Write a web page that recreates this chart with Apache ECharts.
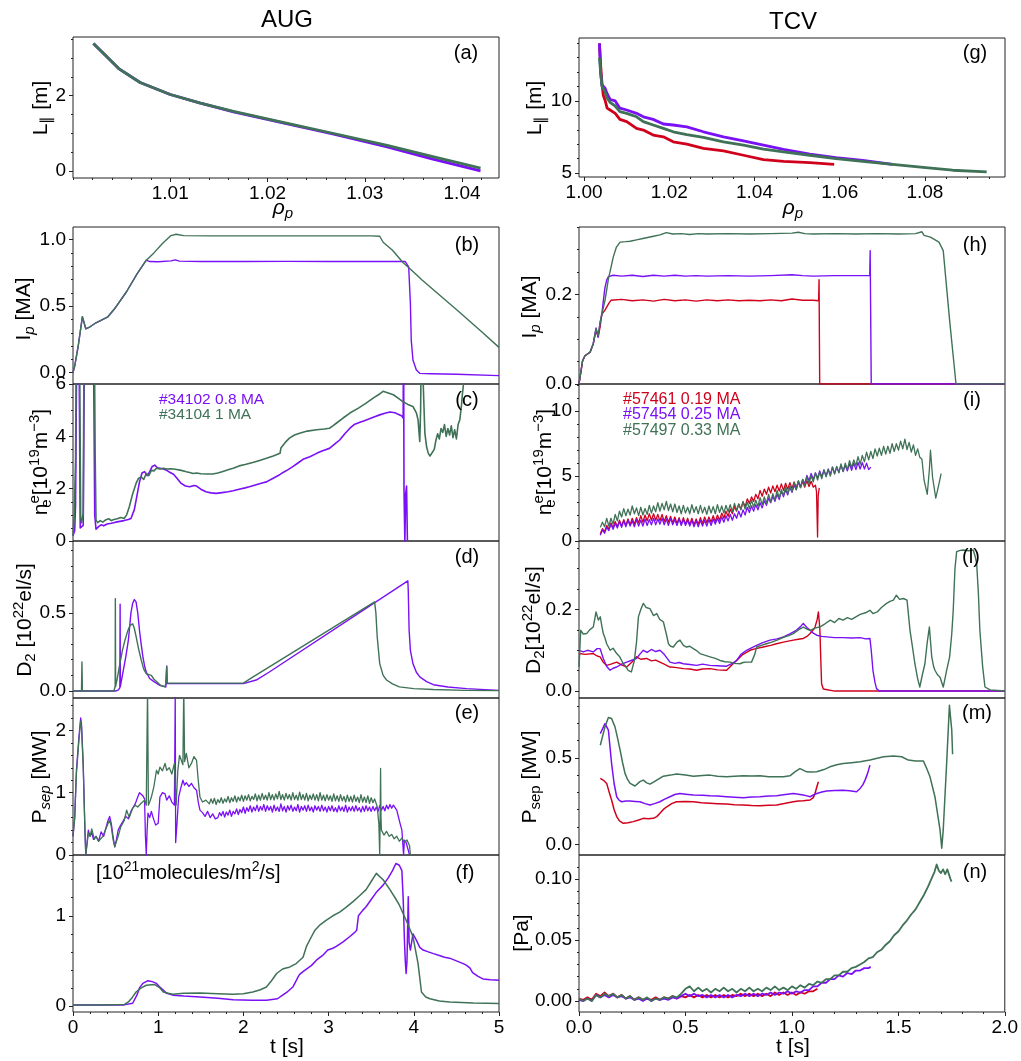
<!DOCTYPE html>
<html><head><meta charset="utf-8">
<script src="https://cdn.jsdelivr.net/npm/echarts@6/dist/echarts.min.js"></script>
<style>html,body{margin:0;padding:0;background:#fff}#c{width:1021px;height:1061px}</style>
</head><body><div id="c"></div>
<script>
// ---------------- DATA ----------------
// tick labels
const RHO_AUG_TICKS = [1.01, 1.02, 1.03, 1.04];
const RHO_TCV_TICKS = [1.00, 1.02, 1.04, 1.06, 1.08];
const T_AUG_TICKS = [0, 1, 2, 3, 4, 5];
const T_TCV_TICKS = [0, 0.5, 1.0, 1.5, 2.0];
const Y_A_TICKS = [0, 2];
const Y_B_TICKS = [0, 0.5, 1.0];
const Y_C_TICKS = [0, 2, 4, 6];
const Y_D_TICKS = [0, 0.5];
const Y_E_TICKS = [0, 1, 2];
const Y_F_TICKS = [0, 1];
const Y_G_TICKS = [5, 10];
const Y_H_TICKS = [0, 0.2];
const Y_I_TICKS = [0, 5, 10];
const Y_J_TICKS = [0, 0.2];
const Y_M_TICKS = [0, 0.5];
const Y_N_TICKS = [0, 0.05, 0.10];

// legend entries
const AUG_SHOTS = ['#34102 0.8 MA', '#34104 1 MA'];
const TCV_SHOTS = ['#57461 0.19 MA', '#57454 0.25 MA', '#57497 0.33 MA'];

// (a) AUG L_par vs rho_p
const aug_L_34102 = [[1.0021,3.39],[1.0047,2.72],[1.0069,2.35],[1.01,2.03],[1.0131,1.8],[1.0165,1.57],[1.0217,1.27],[1.0267,0.98],[1.0323,0.64],[1.037,0.31],[1.0419,0.0]];
const aug_L_34104 = [[1.0021,3.39],[1.0047,2.72],[1.0069,2.35],[1.01,2.03],[1.0131,1.8],[1.0165,1.58],[1.0217,1.28],[1.0267,1.0],[1.0323,0.68],[1.037,0.38],[1.0419,0.07]];

// (b) AUG Ip
const aug_ip_34102 = [[0,0],[0.02,0.05],[0.06,0.195],[0.11,0.42],[0.15,0.33],[0.2,0.345],[0.27,0.375],[0.41,0.42],[0.5,0.49],[0.63,0.61],[0.75,0.74],[0.86,0.845],[0.9,0.835],[1.0,0.833],[1.15,0.84],[1.2,0.848],[1.25,0.838],[1.5,0.835],[2.0,0.835],[2.5,0.836],[3.0,0.835],[3.5,0.835],[3.9,0.835],[3.92,0.845],[3.94,0.795],[3.96,0.52],[3.97,0.245],[3.99,0.095],[4.03,0.02],[4.07,-0.005],[4.2,-0.008],[4.5,-0.012],[5.0,-0.022]];
const aug_ip_34104 = [[0,0],[0.02,0.05],[0.06,0.195],[0.11,0.42],[0.15,0.33],[0.2,0.345],[0.27,0.375],[0.41,0.42],[0.5,0.49],[0.63,0.61],[0.75,0.74],[0.86,0.845],[0.95,0.9],[1.05,0.97],[1.15,1.03],[1.21,1.04],[1.3,1.03],[1.6,1.028],[2.0,1.028],[2.5,1.028],[3.0,1.028],[3.5,1.028],[3.6,1.025],[3.64,0.98],[3.75,0.92],[3.87,0.83],[4.0,0.755],[4.1,0.695],[4.5,0.475],[4.8,0.305],[5.0,0.19]];

// (c) AUG ne
const aug_ne_34102 = [[0,0.2],[0.02,0.4],[0.03,1.4],[0.045,8],[0.07,8],[0.085,0.5],[0.1,0.45],[0.12,0.6],[0.135,8],[0.24,8],[0.255,1.0],[0.27,0.45],[0.3,0.55],[0.33,0.62],[0.36,0.58],[0.4,0.65],[0.45,0.68],[0.5,0.72],[0.55,0.75],[0.6,0.78],[0.65,0.82],[0.68,0.86],[0.72,1.2],[0.76,1.9],[0.78,2.25],[0.81,2.6],[0.84,2.65],[0.87,2.5],[0.9,2.65],[0.93,2.85],[0.96,2.9],[0.99,2.8],[1.02,2.78],[1.06,2.75],[1.1,2.7],[1.14,2.62],[1.18,2.55],[1.22,2.4],[1.27,2.2],[1.32,2.1],[1.37,2.07],[1.42,2.12],[1.45,2.1],[1.5,1.98],[1.56,1.88],[1.62,1.84],[1.68,1.82],[1.75,1.85],[1.82,1.88],[1.88,1.92],[1.95,1.98],[2.02,2.03],[2.07,2.07],[2.15,2.15],[2.22,2.22],[2.27,2.26],[2.35,2.4],[2.42,2.52],[2.46,2.61],[2.52,2.72],[2.58,2.84],[2.64,2.98],[2.66,2.95],[2.7,3.12],[2.78,3.22],[2.86,3.35],[2.93,3.45],[3.01,3.54],[3.07,3.7],[3.13,3.86],[3.19,4.1],[3.25,4.31],[3.3,4.45],[3.36,4.53],[3.42,4.6],[3.48,4.67],[3.54,4.75],[3.6,4.82],[3.66,4.88],[3.72,4.93],[3.78,4.9],[3.81,4.85],[3.86,4.78],[3.875,4.7],[3.88,8],[3.885,2.0],[3.895,0],[3.905,1.8],[3.915,2.1],[3.925,0]];
const aug_ne_34104 = [[0,0.2],[0.015,1.0],[0.03,3.1],[0.04,8],[0.075,8],[0.09,0.9],[0.1,0.7],[0.12,1.05],[0.13,8],[0.25,8],[0.26,3.3],[0.27,0.8],[0.29,0.7],[0.32,0.78],[0.35,0.72],[0.38,0.8],[0.42,0.85],[0.45,0.78],[0.48,0.82],[0.52,0.85],[0.56,0.9],[0.6,0.86],[0.63,1.0],[0.66,1.3],[0.7,1.8],[0.74,2.2],[0.77,2.4],[0.8,2.45],[0.83,2.35],[0.86,2.58],[0.89,2.5],[0.92,2.7],[0.95,2.68],[0.98,2.78],[1.02,2.75],[1.06,2.78],[1.1,2.75],[1.15,2.76],[1.2,2.74],[1.27,2.7],[1.33,2.65],[1.37,2.62],[1.41,2.58],[1.45,2.6],[1.5,2.57],[1.57,2.56],[1.64,2.56],[1.7,2.6],[1.76,2.66],[1.82,2.72],[1.88,2.78],[1.95,2.87],[2.02,2.92],[2.11,3.0],[2.19,3.08],[2.27,3.16],[2.35,3.25],[2.43,3.35],[2.44,3.55],[2.46,3.6],[2.5,3.8],[2.54,3.93],[2.6,4.05],[2.66,4.12],[2.75,4.2],[2.86,4.25],[2.95,4.28],[3.01,4.31],[3.05,4.4],[3.09,4.5],[3.17,4.7],[3.25,4.89],[3.35,5.08],[3.44,5.27],[3.54,5.5],[3.6,5.62],[3.64,5.72],[3.7,5.66],[3.76,5.59],[3.82,5.45],[3.87,5.33],[3.93,5.22],[3.99,5.14],[4.03,4.9],[4.05,4.63],[4.07,3.8],[4.08,5.0],[4.09,8],[4.11,8],[4.13,4.12],[4.15,3.6],[4.17,3.35],[4.19,3.25],[4.21,3.22],[4.24,3.5],[4.26,3.86],[4.28,4.1],[4.3,3.9],[4.32,4.3],[4.34,4.15],[4.36,4.45],[4.38,4.0],[4.4,4.3],[4.42,4.05],[4.44,4.4],[4.46,3.95],[4.48,4.25],[4.5,3.9],[4.52,4.45],[4.54,4.63],[4.56,5.2],[4.57,5.6],[4.6,6.5]];

// (d) AUG D2 fuelling
const aug_d2_34102 = [[0,0],[0.5,0],[0.53,0.005],[0.55,0.02],[0.553,0.555],[0.556,0.03],[0.59,0.13],[0.62,0.22],[0.65,0.325],[0.68,0.5],[0.7,0.56],[0.72,0.585],[0.74,0.57],[0.76,0.5],[0.78,0.39],[0.8,0.3],[0.82,0.22],[0.84,0.16],[0.86,0.12],[0.9,0.08],[0.95,0.06],[1.02,0.036],[1.09,0.026],[1.1,0.16],[1.105,0.047],[1.2,0.047],[1.5,0.047],[2.0,0.047],[2.15,0.07],[2.3,0.12],[3.93,0.705],[3.935,0.64],[3.945,0.39],[3.96,0.26],[3.99,0.175],[4.03,0.12],[4.07,0.09],[4.15,0.06],[4.23,0.04],[4.4,0.025],[4.62,0.015],[5.0,0.004]];
const aug_d2_34104 = [[0,0],[0.1,0],[0.105,0.185],[0.11,0],[0.48,0],[0.495,0.03],[0.497,0.59],[0.5,0.03],[0.52,0.08],[0.55,0.175],[0.58,0.26],[0.61,0.325],[0.64,0.38],[0.67,0.42],[0.7,0.43],[0.72,0.4],[0.74,0.35],[0.77,0.27],[0.8,0.2],[0.83,0.14],[0.86,0.11],[0.89,0.105],[0.92,0.1],[0.95,0.075],[0.98,0.06],[1.03,0.035],[1.08,0.026],[1.09,0.05],[1.1,0.155],[1.105,0.05],[1.5,0.05],[2.0,0.05],[2.1,0.085],[3.54,0.57],[3.555,0.5],[3.57,0.35],[3.6,0.175],[3.64,0.1],[3.68,0.07],[3.75,0.045],[3.83,0.026],[4.0,0.015],[4.23,0.009],[4.6,0.004],[5.0,0.002]];

// (e) AUG P_sep
const aug_ps_34102 = [[0,0.3],[0.02,0.6],[0.04,1.36],[0.07,1.9],[0.09,2.2],[0.1,2.1],[0.12,1.47],[0.14,0.4],[0.15,0],[0.16,0],[0.18,0.4],[0.2,0.3],[0.22,0.36],[0.24,0.25],[0.27,0.3],[0.3,0.22],[0.33,0.37],[0.36,0.3],[0.39,0.45],[0.41,0.55],[0.43,0.62],[0.45,0.5],[0.47,0.3],[0.49,0.13],[0.51,0.25],[0.53,0.4],[0.56,0.48],[0.59,0.55],[0.62,0.62],[0.65,0.58],[0.68,0.7],[0.7,0.75],[0.73,0.82],[0.76,0.93],[0.78,1.0],[0.8,1.0],[0.82,0.95],[0.84,0.9],[0.85,0.3],[0.86,0],[0.87,0.4],[0.88,0.67],[0.9,0.6],[0.92,0.7],[0.94,0.6],[0.97,0.48],[1.0,0.51],[1.02,0.93],[1.05,1.0],[1.08,0.98],[1.1,0.88],[1.13,0.95],[1.16,0.85],[1.19,0.8],[1.2,2.6],[1.205,0.2],[1.22,0.5],[1.24,0.93],[1.27,1.1],[1.29,1.2],[1.31,1.12],[1.33,1.16],[1.36,1.1],[1.39,1.15],[1.42,1.08],[1.45,1.04],[1.47,0.85],[1.49,0.72],[1.52,0.68],[1.55,0.62],[1.58,0.7],[1.61,0.6],[1.64,0.66],[1.67,0.58],
[1.70,0.60],[1.72,0.68],[1.74,0.63],[1.76,0.70],[1.78,0.61],[1.80,0.69],[1.82,0.64],[1.84,0.72],[1.86,0.62],[1.88,0.70],[1.90,0.66],[1.92,0.74],[1.94,0.65],[1.96,0.73],[1.98,0.68],[2.00,0.77],[2.02,0.67],[2.04,0.76],[2.06,0.70],[2.08,0.79],[2.10,0.69],[2.12,0.77],[2.14,0.71],[2.16,0.80],[2.18,0.70],[2.20,0.78],[2.22,0.72],[2.24,0.81],[2.26,0.70],[2.28,0.79],[2.30,0.72],[2.32,0.78],[2.34,0.69],[2.36,0.80],[2.38,0.71],[2.40,0.77],[2.42,0.70],[2.44,0.82],[2.46,0.71],[2.48,0.78],[2.50,0.69],[2.52,0.79],[2.54,0.72],[2.56,0.80],[2.58,0.70],[2.60,0.77],[2.62,0.71],[2.64,0.81],[2.66,0.69],[2.68,0.78],[2.70,0.72],[2.72,0.79],[2.74,0.70],[2.76,0.80],[2.78,0.71],[2.80,0.77],[2.82,0.69],[2.84,0.79],[2.86,0.72],[2.88,0.78],[2.90,0.70],[2.92,0.80],[2.94,0.71],[2.96,0.77],[2.98,0.69],[3.00,0.78],[3.02,0.71],[3.04,0.79],[3.06,0.70],[3.08,0.76],[3.10,0.69],[3.12,0.79],[3.14,0.71],[3.16,0.77],[3.18,0.70],[3.20,0.80],[3.22,0.69],[3.24,0.77],[3.26,0.71],[3.28,0.78],[3.30,0.70],[3.32,0.79],[3.34,0.71],[3.36,0.76],[3.38,0.69],[3.40,0.78],[3.42,0.70],[3.44,0.79],[3.46,0.71],[3.48,0.77],[3.50,0.70],[3.52,0.78],[3.54,0.71],[3.56,0.77],[3.58,0.70],[3.60,0.79],[3.62,0.72],[3.64,0.78],[3.66,0.71],[3.68,0.80],[3.70,0.74],[3.72,0.81],[3.74,0.75],[3.76,0.80],[3.78,0.76],[3.8,0.72],[3.82,0.61],[3.84,0.5],[3.86,0.4],[3.87,0.2],[3.88,0],[3.89,0.24],[3.91,0.2],[3.93,0.18],[3.95,0]];
const aug_ps_34104 = [[0,0.3],[0.02,0.6],[0.04,1.3],[0.07,1.85],[0.09,2.15],[0.1,2.05],[0.12,1.4],[0.14,0.4],[0.15,0],[0.165,0],[0.18,0.35],[0.2,0.3],[0.22,0.42],[0.25,0.25],[0.27,0.3],[0.3,0.22],[0.32,0.2],[0.35,0.3],[0.38,0.4],[0.41,0.5],[0.43,0.56],[0.45,0.45],[0.47,0.25],[0.49,0.13],[0.51,0.22],[0.53,0.3],[0.56,0.45],[0.6,0.55],[0.63,0.72],[0.66,0.6],[0.7,0.75],[0.73,0.8],[0.76,0.77],[0.8,0.83],[0.84,0.88],[0.86,0.8],[0.875,2.7],[0.885,0.8],[0.9,0.85],[0.92,0.93],[0.95,1.1],[0.98,1.36],[1.0,1.3],[1.02,1.41],[1.05,1.35],[1.08,1.47],[1.1,1.36],[1.13,1.4],[1.16,1.3],[1.19,1.47],[1.21,0.8],[1.23,1.35],[1.25,1.6],[1.27,1.57],[1.29,1.45],[1.3,2.7],[1.31,1.5],[1.33,1.63],[1.36,1.4],[1.39,1.47],[1.42,1.58],[1.45,1.52],[1.47,1.2],[1.49,0.93],[1.52,0.85],[1.56,0.88],
[1.60,0.82],[1.62,0.90],[1.64,0.83],[1.66,0.91],[1.68,0.81],[1.70,0.89],[1.72,0.84],[1.74,0.92],[1.76,0.83],[1.78,0.90],[1.80,0.85],[1.82,0.94],[1.84,0.84],[1.86,0.92],[1.88,0.86],[1.90,0.95],[1.92,0.85],[1.94,0.93],[1.96,0.87],[1.98,0.96],[2.00,0.86],[2.02,0.95],[2.04,0.88],[2.06,0.97],[2.08,0.87],[2.10,0.94],[2.12,0.89],[2.14,0.98],[2.16,0.87],[2.18,0.96],[2.20,0.88],[2.22,0.99],[2.24,0.89],[2.26,0.96],[2.28,0.88],[2.30,1.00],[2.32,0.89],[2.34,0.97],[2.36,0.88],[2.38,0.98],[2.40,0.90],[2.42,1.02],[2.44,0.89],[2.46,0.97],[2.48,0.88],[2.50,0.99],[2.52,0.90],[2.54,0.97],[2.56,0.88],[2.58,1.00],[2.60,0.89],[2.62,0.96],[2.64,0.88],[2.66,1.01],[2.68,0.89],[2.70,0.97],[2.72,0.88],[2.74,0.99],[2.76,0.87],[2.78,0.96],[2.80,0.89],[2.82,0.98],[2.84,0.88],[2.86,0.97],[2.88,0.87],[2.90,1.00],[2.92,0.88],[2.94,0.96],[2.96,0.87],[2.98,0.97],[3.00,0.88],[3.02,0.95],[3.04,0.86],[3.06,0.98],[3.08,0.87],[3.10,0.95],[3.12,0.86],[3.14,0.97],[3.16,0.87],[3.18,0.94],[3.20,0.85],[3.22,0.96],[3.24,0.86],[3.26,0.94],[3.28,0.85],[3.30,0.96],[3.32,0.86],[3.34,0.93],[3.36,0.84],[3.38,0.97],[3.40,0.85],[3.42,0.93],[3.44,0.84],[3.46,0.95],[3.48,0.83],[3.50,0.92],[3.52,0.84],[3.54,0.90],[3.57,0.78],[3.59,0.5],[3.6,0],[3.605,0.6],[3.61,1.39],[3.615,0.6],[3.62,0.4],[3.65,0.32],[3.68,0.38],[3.71,0.3],[3.74,0.33],[3.77,0.26],[3.8,0.3],[3.83,0.22],[3.86,0.27],[3.89,0.2],[3.92,0.24],[3.95,0.15],[3.96,0]];

// (f) AUG neutral flux
const aug_fl_34102 = [[0,0.01],[0.3,0.01],[0.6,0.012],[0.7,0.03],[0.75,0.12],[0.78,0.2],[0.82,0.25],[0.88,0.28],[0.93,0.27],[0.98,0.25],[1.03,0.2],[1.1,0.14],[1.17,0.12],[1.3,0.11],[1.49,0.1],[1.7,0.085],[1.88,0.07],[2.1,0.063],[2.27,0.063],[2.4,0.08],[2.46,0.12],[2.52,0.16],[2.58,0.21],[2.62,0.28],[2.64,0.32],[2.66,0.35],[2.7,0.38],[2.8,0.45],[2.86,0.51],[2.93,0.56],[2.99,0.62],[3.05,0.64],[3.09,0.66],[3.17,0.71],[3.25,0.77],[3.3,0.81],[3.33,0.84],[3.35,1.0],[3.4,1.06],[3.44,1.1],[3.5,1.18],[3.56,1.26],[3.64,1.34],[3.7,1.42],[3.75,1.5],[3.79,1.58],[3.83,1.56],[3.86,1.5],[3.875,1.2],[3.89,0.73],[3.9,0.5],[3.91,0.36],[3.92,0.5],[3.935,1.21],[3.945,0.7],[3.96,0.62],[3.99,0.8],[4.01,0.78],[4.03,0.73],[4.07,0.65],[4.11,0.62],[4.17,0.6],[4.23,0.58],[4.3,0.56],[4.36,0.54],[4.42,0.53],[4.5,0.5],[4.58,0.47],[4.62,0.45],[4.66,0.42],[4.69,0.37],[4.75,0.33],[4.81,0.3],[4.9,0.29],[5.0,0.285]];
const aug_fl_34104 = [[0,0.012],[0.3,0.012],[0.6,0.015],[0.65,0.045],[0.7,0.1],[0.74,0.155],[0.8,0.2],[0.86,0.23],[0.96,0.237],[1.02,0.2],[1.06,0.155],[1.12,0.14],[1.17,0.13],[1.3,0.14],[1.49,0.145],[1.7,0.135],[1.88,0.13],[2.0,0.135],[2.11,0.155],[2.2,0.18],[2.27,0.21],[2.33,0.28],[2.39,0.36],[2.46,0.41],[2.5,0.42],[2.54,0.43],[2.62,0.47],[2.7,0.54],[2.74,0.66],[2.8,0.77],[2.84,0.84],[2.9,0.9],[2.97,0.95],[3.05,1.0],[3.13,1.04],[3.2,1.09],[3.29,1.16],[3.36,1.22],[3.44,1.29],[3.5,1.38],[3.56,1.47],[3.58,1.48],[3.64,1.4],[3.72,1.29],[3.78,1.2],[3.83,1.12],[3.91,0.95],[3.99,0.77],[4.05,0.47],[4.09,0.155],[4.14,0.1],[4.19,0.08],[4.3,0.055],[4.42,0.044],[4.7,0.032],[5.0,0.026]];

// (g) TCV L_par vs rho_p
const tcv_L_57461 = [[1.0036,14.0],[1.0039,12.4],[1.0042,11.2],[1.0045,10.4],[1.0049,10.07],[1.0054,9.5],[1.0061,9.37],[1.0073,9.14],[1.0084,8.72],[1.01,8.56],[1.0123,8.1],[1.0139,7.98],[1.0162,7.63],[1.0186,7.51],[1.0209,7.16],[1.0241,7.0],[1.028,6.7],[1.0327,6.53],[1.0374,6.23],[1.0421,5.93],[1.0468,5.81],[1.053,5.72],[1.0587,5.6]];
const tcv_L_57454 = [[1.0036,14.0],[1.0039,11.9],[1.0042,11.1],[1.0049,10.9],[1.0054,10.5],[1.0061,10.1],[1.0073,10.0],[1.0084,9.5],[1.01,9.37],[1.0123,9.14],[1.0139,8.9],[1.0162,8.72],[1.0186,8.4],[1.0209,8.33],[1.0241,8.2],[1.028,7.86],[1.0327,7.51],[1.0374,7.23],[1.0421,6.93],[1.0468,6.63],[1.053,6.3],[1.0591,6.07],[1.0654,5.88],[1.0724,5.6]];
const tcv_L_57497 = [[1.0036,13.0],[1.0039,11.9],[1.0042,11.0],[1.0049,10.65],[1.0054,10.2],[1.0061,9.9],[1.0073,9.65],[1.0084,9.26],[1.01,9.14],[1.0123,8.9],[1.0139,8.56],[1.0162,8.33],[1.0186,8.1],[1.0209,7.86],[1.0241,7.67],[1.028,7.47],[1.0327,7.16],[1.0374,6.93],[1.0421,6.65],[1.0468,6.47],[1.053,6.23],[1.0591,6.0],[1.0654,5.81],[1.0724,5.6],[1.0802,5.37],[1.0865,5.19],[1.0945,5.07]];

// (h) TCV Ip
const tcv_ip_57461 = [[0,0],[0.005,0],[0.017,0.052],[0.028,0.063],[0.052,0.071],[0.067,0.09],[0.08,0.12],[0.09,0.105],[0.1,0.13],[0.106,0.155],[0.114,0.157],[0.122,0.165],[0.13,0.168],[0.14,0.18],[0.15,0.187],[0.2,0.189],[0.25,0.186],[0.3,0.188],[0.35,0.185],[0.4,0.189],[0.45,0.186],[0.5,0.188],[0.55,0.185],[0.6,0.188],[0.65,0.186],[0.7,0.188],[0.75,0.186],[0.8,0.187],[0.85,0.186],[0.9,0.188],[0.95,0.186],[1.0,0.19],[1.05,0.187],[1.1,0.187],[1.125,0.186],[1.127,0.233],[1.13,0],[2.0,0]];
const tcv_ip_57454 = [[0,0],[0.005,0],[0.017,0.052],[0.028,0.063],[0.052,0.071],[0.067,0.09],[0.08,0.125],[0.09,0.105],[0.1,0.14],[0.106,0.15],[0.114,0.185],[0.122,0.216],[0.13,0.232],[0.138,0.24],[0.16,0.243],[0.2,0.241],[0.25,0.243],[0.3,0.24],[0.35,0.243],[0.4,0.241],[0.45,0.243],[0.5,0.241],[0.55,0.242],[0.6,0.241],[0.7,0.242],[0.8,0.241],[0.9,0.242],[1.0,0.244],[1.05,0.242],[1.1,0.241],[1.2,0.242],[1.3,0.242],[1.365,0.242],[1.367,0.298],[1.372,0],[2.0,0]];
const tcv_ip_57497 = [[0,0],[0.005,0],[0.017,0.052],[0.028,0.063],[0.052,0.071],[0.067,0.09],[0.08,0.123],[0.09,0.108],[0.1,0.14],[0.106,0.153],[0.114,0.17],[0.122,0.187],[0.13,0.21],[0.138,0.235],[0.15,0.26],[0.161,0.284],[0.175,0.305],[0.193,0.317],[0.22,0.318],[0.24,0.319],[0.27,0.322],[0.3,0.325],[0.35,0.33],[0.38,0.333],[0.41,0.338],[0.44,0.335],[0.48,0.336],[0.52,0.334],[0.56,0.336],[0.6,0.335],[0.7,0.336],[0.8,0.335],[0.9,0.336],[1.0,0.337],[1.03,0.339],[1.06,0.336],[1.1,0.335],[1.2,0.336],[1.3,0.335],[1.4,0.336],[1.5,0.335],[1.58,0.336],[1.61,0.34],[1.62,0.332],[1.65,0.328],[1.69,0.317],[1.71,0.298],[1.74,0.142],[1.77,0],[2.0,0]];

// (i) TCV ne
const tcv_ne_57461 = [[0.10,0.55],[0.11,0.95],[0.12,0.70],[0.13,1.20],[0.14,0.90],[0.15,1.40],[0.16,1.00],[0.17,1.50],[0.18,1.10],[0.19,1.60],[0.20,1.15],[0.21,1.65],[0.22,1.20],[0.23,1.70],[0.24,1.25],[0.25,1.75],[0.26,1.30],[0.27,1.80],[0.28,1.40],[0.29,1.95],[0.30,1.45],[0.31,2.00],[0.32,1.55],[0.33,2.10],[0.34,1.60],[0.35,2.10],[0.36,1.60],[0.37,2.05],[0.38,1.55],[0.39,2.05],[0.40,1.50],[0.41,1.95],[0.42,1.45],[0.43,1.90],[0.44,1.40],[0.45,1.85],[0.46,1.35],[0.47,1.80],[0.48,1.30],[0.49,1.80],[0.50,1.30],[0.51,1.75],[0.52,1.25],[0.53,1.75],[0.54,1.25],[0.55,1.70],[0.56,1.30],[0.57,1.80],[0.58,1.35],[0.59,1.85],[0.60,1.40],[0.61,1.85],[0.62,1.45],[0.63,1.95],[0.64,1.50],[0.65,2.00],[0.66,1.60],[0.67,2.15],[0.68,1.75],[0.69,2.30],[0.70,1.90],[0.71,2.45],[0.72,2.10],[0.73,2.65],[0.74,2.30],[0.75,2.85],[0.76,2.45],[0.77,3.00],[0.78,2.65],[0.79,3.25],[0.80,2.90],[0.81,3.40],[0.82,3.05],[0.83,3.60],[0.84,3.25],[0.85,3.90],[0.86,3.45],[0.87,4.00],[0.88,3.60],[0.89,4.15],[0.90,3.70],[0.91,4.25],[0.92,3.80],[0.93,4.30],[0.94,3.85],[0.95,4.40],[0.96,3.90],[0.97,4.45],[0.98,4.00],[0.99,4.50],[1.00,4.05],[1.01,4.55],[1.02,4.10],[1.03,4.60],[1.04,4.15],[1.05,4.60],[1.06,4.15],[1.07,4.65],[1.08,4.20],[1.09,4.60],[1.10,4.15],[1.11,4.30],[1.115,3.8],[1.12,0.3],[1.123,3.5],[1.128,4.1]];
const tcv_ne_57454 = [[0.10,0.45],[0.11,0.85],[0.12,0.60],[0.13,1.05],[0.14,0.80],[0.15,1.30],[0.16,0.90],[0.17,1.35],[0.18,1.00],[0.19,1.50],[0.20,1.05],[0.21,1.55],[0.22,1.10],[0.23,1.60],[0.24,1.15],[0.25,1.55],[0.26,1.10],[0.27,1.65],[0.28,1.15],[0.29,1.60],[0.30,1.15],[0.31,1.70],[0.32,1.20],[0.33,1.65],[0.34,1.25],[0.35,1.75],[0.36,1.25],[0.37,1.70],[0.38,1.30],[0.39,1.75],[0.40,1.25],[0.41,1.70],[0.42,1.20],[0.43,1.75],[0.44,1.25],[0.45,1.65],[0.46,1.20],[0.47,1.70],[0.48,1.20],[0.49,1.65],[0.50,1.20],[0.51,1.60],[0.52,1.15],[0.53,1.60],[0.54,1.10],[0.55,1.55],[0.56,1.10],[0.57,1.60],[0.58,1.15],[0.59,1.60],[0.60,1.15],[0.61,1.65],[0.62,1.20],[0.63,1.70],[0.64,1.30],[0.65,1.75],[0.66,1.35],[0.67,1.85],[0.68,1.45],[0.69,1.95],[0.70,1.55],[0.71,2.05],[0.72,1.60],[0.73,2.10],[0.74,1.75],[0.75,2.30],[0.76,1.85],[0.77,2.40],[0.78,2.00],[0.79,2.60],[0.80,2.20],[0.81,2.70],[0.82,2.30],[0.83,2.80],[0.84,2.40],[0.85,2.95],[0.86,2.55],[0.87,3.10],[0.88,2.75],[0.89,3.30],[0.90,2.95],[0.91,3.45],[0.92,3.05],[0.93,3.60],[0.94,3.20],[0.95,3.85],[0.96,3.40],[0.97,3.95],[0.98,3.55],[0.99,4.15],[1.00,3.75],[1.01,4.30],[1.02,3.95],[1.03,4.55],[1.04,4.15],[1.05,4.75],[1.06,4.40],[1.07,5.05],[1.08,4.65],[1.09,5.20],[1.10,4.75],[1.11,5.25],[1.12,4.85],[1.13,5.40],[1.14,4.95],[1.15,5.45],[1.16,5.00],[1.17,5.55],[1.18,5.10],[1.19,5.70],[1.20,5.20],[1.21,5.70],[1.22,5.30],[1.23,5.85],[1.24,5.35],[1.25,5.85],[1.26,5.40],[1.27,5.95],[1.28,5.45],[1.29,6.00],[1.30,5.50],[1.31,6.05],[1.32,5.55],[1.33,6.05],[1.34,5.55],[1.35,6.00],[1.36,5.50],[1.37,5.70]];
const tcv_ne_57497 = [[0.10,1.05],[0.11,1.45],[0.12,1.10],[0.13,1.75],[0.14,1.15],[0.15,1.75],[0.16,1.30],[0.17,2.05],[0.18,1.55],[0.19,2.30],[0.20,1.85],[0.21,2.50],[0.22,1.95],[0.23,2.45],[0.24,2.00],[0.25,2.70],[0.26,2.10],[0.27,2.55],[0.28,1.95],[0.29,2.60],[0.30,2.00],[0.31,2.50],[0.32,2.05],[0.33,2.75],[0.34,2.15],[0.35,2.70],[0.36,2.25],[0.37,2.95],[0.38,2.30],[0.39,2.90],[0.40,2.40],[0.41,3.05],[0.42,2.35],[0.43,2.85],[0.44,2.25],[0.45,2.85],[0.46,2.20],[0.47,2.70],[0.48,2.10],[0.49,2.75],[0.50,2.15],[0.51,2.60],[0.52,2.10],[0.53,2.80],[0.54,2.20],[0.55,2.65],[0.56,2.10],[0.57,2.75],[0.58,2.15],[0.59,2.60],[0.60,2.05],[0.61,2.70],[0.62,2.15],[0.63,2.65],[0.64,2.10],[0.65,2.80],[0.66,2.20],[0.67,2.70],[0.68,2.15],[0.69,2.75],[0.70,2.25],[0.71,2.80],[0.72,2.25],[0.73,2.90],[0.74,2.35],[0.75,2.85],[0.76,2.40],[0.77,3.05],[0.78,2.45],[0.79,3.00],[0.80,2.50],[0.81,3.15],[0.82,2.60],[0.83,3.15],[0.84,2.65],[0.85,3.35],[0.86,2.80],[0.87,3.40],[0.88,2.90],[0.89,3.60],[0.90,3.00],[0.91,3.65],[0.92,3.15],[0.93,3.90],[0.94,3.30],[0.95,3.95],[0.96,3.50],[0.97,4.20],[0.98,3.65],[0.99,4.25],[1.00,3.80],[1.01,4.50],[1.02,3.95],[1.03,4.65],[1.04,4.10],[1.05,4.75],[1.06,4.25],[1.07,4.95],[1.08,4.40],[1.09,5.05],[1.10,4.55],[1.11,5.25],[1.12,4.70],[1.13,5.30],[1.14,4.80],[1.15,5.50],[1.16,4.95],[1.17,5.50],[1.18,5.00],[1.19,5.70],[1.20,5.15],[1.21,5.75],[1.22,5.25],[1.23,5.95],[1.24,5.35],[1.25,6.00],[1.26,5.50],[1.27,6.20],[1.28,5.65],[1.29,6.25],[1.30,5.80],[1.31,6.50],[1.32,5.90],[1.33,6.60],[1.34,6.10],[1.35,6.85],[1.36,6.25],[1.37,6.90],[1.38,6.35],[1.39,7.10],[1.40,6.55],[1.41,7.15],[1.42,6.60],[1.43,7.30],[1.44,6.70],[1.45,7.30],[1.46,6.75],[1.47,7.50],[1.48,6.90],[1.49,7.50],[1.50,7.00],[1.51,7.70],[1.52,7.10],[1.53,7.85],[1.54,7.05],[1.55,7.60],[1.56,6.85],[1.57,7.40],[1.58,6.60],[1.59,7.10],[1.60,6.45],[1.61,6.3],[1.62,4.7],[1.635,3.6],[1.645,5.5],[1.65,7.0],[1.66,4.9],[1.675,3.3],[1.69,4.4],[1.70,5.2]];

// (l) TCV D2 fuelling
const tcv_d2_57461 = [[0,0.092],[0.03,0.09],[0.067,0.092],[0.085,0.086],[0.099,0.084],[0.115,0.07],[0.13,0.063],[0.15,0.066],[0.177,0.071],[0.2,0.064],[0.224,0.059],[0.25,0.072],[0.27,0.084],[0.29,0.078],[0.317,0.08],[0.34,0.074],[0.36,0.076],[0.38,0.071],[0.4,0.066],[0.427,0.059],[0.45,0.058],[0.49,0.055],[0.52,0.054],[0.552,0.051],[0.58,0.054],[0.615,0.055],[0.65,0.052],[0.693,0.051],[0.72,0.065],[0.74,0.075],[0.77,0.09],[0.803,0.1],[0.83,0.104],[0.865,0.108],[0.9,0.112],[0.927,0.116],[0.96,0.12],[1.006,0.125],[1.03,0.127],[1.053,0.129],[1.07,0.134],[1.085,0.141],[1.1,0.15],[1.108,0.157],[1.118,0.175],[1.124,0.194],[1.128,0.17],[1.131,0.149],[1.135,0.08],[1.139,0.018],[1.147,0.005],[1.155,0.002],[1.2,0.0],[2.0,0]];
const tcv_d2_57454 = [[0,0.1],[0.02,0.096],[0.04,0.1],[0.067,0.096],[0.085,0.104],[0.099,0.104],[0.114,0.08],[0.13,0.06],[0.146,0.051],[0.16,0.056],[0.177,0.059],[0.2,0.066],[0.224,0.071],[0.245,0.075],[0.27,0.08],[0.285,0.09],[0.302,0.1],[0.32,0.095],[0.34,0.102],[0.36,0.097],[0.38,0.1],[0.4,0.09],[0.427,0.071],[0.45,0.068],[0.47,0.07],[0.49,0.067],[0.52,0.065],[0.552,0.063],[0.58,0.066],[0.615,0.063],[0.65,0.062],[0.693,0.061],[0.72,0.068],[0.74,0.075],[0.76,0.09],[0.787,0.1],[0.81,0.106],[0.834,0.112],[0.86,0.118],[0.897,0.125],[0.93,0.128],[0.96,0.133],[0.99,0.14],[1.02,0.149],[1.04,0.158],[1.053,0.166],[1.07,0.156],[1.085,0.149],[1.1,0.142],[1.116,0.137],[1.14,0.134],[1.163,0.133],[1.2,0.131],[1.24,0.131],[1.28,0.13],[1.32,0.131],[1.345,0.128],[1.366,0.129],[1.372,0.1],[1.38,0.051],[1.39,0.02],[1.397,0.006],[1.41,0.0],[2.0,0]];
const tcv_d2_57497 = [[0,0.059],[0.008,0.149],[0.02,0.14],[0.036,0.141],[0.05,0.15],[0.067,0.157],[0.08,0.194],[0.091,0.174],[0.1,0.182],[0.107,0.16],[0.114,0.141],[0.122,0.13],[0.13,0.116],[0.138,0.12],[0.146,0.1],[0.16,0.105],[0.177,0.092],[0.19,0.085],[0.208,0.067],[0.22,0.06],[0.23,0.051],[0.246,0.047],[0.26,0.075],[0.27,0.12],[0.279,0.182],[0.29,0.2],[0.302,0.215],[0.315,0.205],[0.333,0.202],[0.35,0.185],[0.365,0.19],[0.38,0.175],[0.396,0.17],[0.41,0.14],[0.42,0.116],[0.43,0.11],[0.443,0.108],[0.46,0.12],[0.474,0.125],[0.49,0.112],[0.505,0.108],[0.52,0.11],[0.537,0.104],[0.55,0.1],[0.568,0.092],[0.59,0.088],[0.615,0.084],[0.64,0.08],[0.662,0.075],[0.685,0.072],[0.709,0.071],[0.73,0.068],[0.756,0.067],[0.77,0.07],[0.787,0.071],[0.81,0.071],[0.825,0.09],[0.834,0.108],[0.855,0.112],[0.88,0.116],[0.905,0.12],[0.93,0.125],[0.96,0.132],[0.985,0.136],[1.006,0.141],[1.03,0.15],[1.053,0.157],[1.07,0.152],[1.085,0.149],[1.11,0.155],[1.13,0.157],[1.155,0.165],[1.18,0.174],[1.2,0.168],[1.22,0.178],[1.24,0.174],[1.26,0.18],[1.28,0.176],[1.30,0.182],[1.32,0.188],[1.345,0.192],[1.366,0.198],[1.38,0.19],[1.4,0.194],[1.42,0.205],[1.444,0.215],[1.46,0.22],[1.476,0.223],[1.49,0.235],[1.505,0.225],[1.523,0.227],[1.54,0.223],[1.554,0.149],[1.565,0.11],[1.577,0.067],[1.59,0.03],[1.6,0.01],[1.612,0.04],[1.624,0.067],[1.635,0.12],[1.645,0.157],[1.656,0.084],[1.665,0.06],[1.671,0.051],[1.683,0.04],[1.695,0.034],[1.71,0.01],[1.718,0.03],[1.726,0.051],[1.74,0.084],[1.75,0.14],[1.757,0.198],[1.765,0.3],[1.773,0.342],[1.79,0.345],[1.804,0.346],[1.83,0.344],[1.851,0.346],[1.86,0.33],[1.867,0.313],[1.875,0.24],[1.882,0.149],[1.895,0.06],[1.906,0.01],[1.93,0.003],[2.0,0]];

// (m) TCV P_sep
const tcv_ps_57461 = [[0.1,0.381],[0.115,0.37],[0.13,0.352],[0.142,0.3],[0.153,0.256],[0.165,0.2],[0.177,0.16],[0.19,0.135],[0.208,0.121],[0.23,0.125],[0.255,0.131],[0.28,0.14],[0.302,0.15],[0.325,0.148],[0.349,0.15],[0.365,0.16],[0.38,0.179],[0.395,0.2],[0.412,0.217],[0.435,0.235],[0.458,0.246],[0.5,0.247],[0.537,0.246],[0.575,0.24],[0.615,0.237],[0.65,0.235],[0.693,0.233],[0.73,0.229],[0.772,0.227],[0.81,0.224],[0.85,0.223],[0.89,0.226],[0.928,0.227],[0.97,0.237],[1.006,0.246],[1.03,0.25],[1.053,0.252],[1.085,0.256],[1.1,0.27],[1.108,0.294],[1.116,0.33],[1.124,0.362]];
const tcv_ps_57454 = [[0.1,0.64],[0.122,0.698],[0.138,0.66],[0.153,0.467],[0.165,0.35],[0.177,0.275],[0.188,0.255],[0.2,0.246],[0.22,0.25],[0.24,0.25],[0.263,0.248],[0.286,0.246],[0.31,0.235],[0.333,0.227],[0.355,0.235],[0.38,0.246],[0.4,0.26],[0.427,0.275],[0.45,0.288],[0.474,0.294],[0.5,0.29],[0.537,0.285],[0.58,0.284],[0.615,0.281],[0.65,0.279],[0.693,0.275],[0.73,0.272],[0.772,0.269],[0.81,0.273],[0.85,0.275],[0.89,0.279],[0.928,0.281],[0.96,0.286],[1.006,0.294],[1.03,0.29],[1.053,0.285],[1.07,0.28],[1.085,0.275],[1.1,0.285],[1.116,0.294],[1.14,0.302],[1.163,0.308],[1.2,0.311],[1.24,0.313],[1.27,0.31],[1.303,0.304],[1.32,0.323],[1.333,0.345],[1.343,0.371],[1.355,0.41],[1.366,0.458]];
const tcv_ps_57497 = [[0.1,0.573],[0.122,0.679],[0.138,0.733],[0.153,0.727],[0.169,0.679],[0.18,0.62],[0.193,0.544],[0.205,0.47],[0.216,0.41],[0.228,0.375],[0.24,0.352],[0.263,0.337],[0.286,0.362],[0.302,0.371],[0.318,0.355],[0.333,0.348],[0.35,0.36],[0.365,0.371],[0.396,0.394],[0.43,0.4],[0.458,0.406],[0.5,0.4],[0.537,0.394],[0.58,0.398],[0.615,0.4],[0.65,0.393],[0.693,0.39],[0.73,0.394],[0.772,0.396],[0.81,0.395],[0.85,0.396],[0.89,0.39],[0.928,0.39],[0.96,0.39],[0.99,0.396],[1.015,0.42],[1.037,0.438],[1.05,0.43],[1.069,0.419],[1.09,0.418],[1.116,0.419],[1.15,0.432],[1.178,0.448],[1.21,0.46],[1.24,0.467],[1.28,0.472],[1.32,0.477],[1.366,0.487],[1.4,0.498],[1.43,0.506],[1.476,0.51],[1.515,0.506],[1.546,0.487],[1.58,0.482],[1.617,0.481],[1.632,0.44],[1.648,0.39],[1.671,0.275],[1.695,0.083],[1.703,-0.023],[1.71,0.083],[1.726,0.467],[1.739,0.804],[1.75,0.66],[1.754,0.521]];

// (n) TCV neutral pressure
const tcv_pa_57461 = [[0.00,0.002],[0.02,0.001],[0.04,0.003],[0.06,0.001],[0.08,0.006],[0.10,0.004],[0.12,0.007],[0.14,0.004],[0.16,0.006],[0.18,0.003],[0.20,0.005],[0.22,0.002],[0.24,0.004],[0.26,0.001],[0.28,0.003],[0.30,0.001],[0.32,0.002],[0.34,0.001],[0.36,0.003],[0.38,0.001],[0.40,0.003],[0.42,0.002],[0.44,0.004],[0.46,0.002],[0.48,0.004],[0.50,0.003],[0.52,0.005],[0.54,0.003],[0.56,0.005],[0.58,0.003],[0.60,0.005],[0.62,0.003],[0.64,0.005],[0.66,0.003],[0.68,0.005],[0.70,0.003],[0.72,0.005],[0.74,0.004],[0.76,0.006],[0.78,0.004],[0.80,0.006],[0.82,0.004],[0.84,0.006],[0.86,0.004],[0.88,0.006],[0.90,0.004],[0.92,0.007],[0.94,0.005],[0.96,0.007],[0.98,0.005],[1.00,0.007],[1.02,0.005],[1.04,0.007],[1.06,0.006],[1.08,0.008],[1.10,0.008],[1.12,0.010]];
const tcv_pa_57454 = [[0.00,0.001],[0.02,0.000],[0.04,0.002],[0.06,0.000],[0.08,0.005],[0.10,0.003],[0.12,0.005],[0.14,0.003],[0.16,0.005],[0.18,0.003],[0.20,0.004],[0.22,0.002],[0.24,0.003],[0.26,0.001],[0.28,0.002],[0.30,0.000],[0.32,0.002],[0.34,0.000],[0.36,0.002],[0.38,0.001],[0.40,0.002],[0.42,0.001],[0.44,0.003],[0.46,0.002],[0.48,0.004],[0.50,0.006],[0.52,0.004],[0.54,0.006],[0.56,0.004],[0.58,0.005],[0.60,0.003],[0.62,0.005],[0.64,0.003],[0.66,0.005],[0.68,0.003],[0.70,0.005],[0.72,0.003],[0.74,0.005],[0.76,0.004],[0.78,0.006],[0.80,0.004],[0.82,0.006],[0.84,0.004],[0.86,0.006],[0.88,0.005],[0.90,0.007],[0.92,0.005],[0.94,0.007],[0.96,0.006],[0.98,0.008],[1.00,0.006],[1.02,0.008],[1.04,0.007],[1.06,0.009],[1.08,0.009],[1.10,0.012],[1.12,0.012],[1.14,0.015],[1.16,0.015],[1.18,0.018],[1.20,0.018],[1.22,0.021],[1.24,0.020],[1.26,0.023],[1.28,0.022],[1.30,0.025],[1.32,0.025],[1.34,0.027],[1.36,0.027],[1.37,0.028]];
const tcv_pa_57497 = [[0.00,0.002],[0.02,0.000],[0.04,0.002],[0.06,0.000],[0.08,0.005],[0.10,0.003],[0.12,0.006],[0.14,0.004],[0.16,0.006],[0.18,0.003],[0.20,0.005],[0.22,0.002],[0.24,0.004],[0.26,0.001],[0.28,0.003],[0.30,0.001],[0.32,0.003],[0.34,0.000],[0.36,0.002],[0.38,0.001],[0.40,0.003],[0.42,0.002],[0.44,0.004],[0.46,0.003],[0.48,0.006],[0.50,0.010],[0.52,0.012],[0.54,0.008],[0.56,0.011],[0.58,0.008],[0.60,0.010],[0.62,0.007],[0.64,0.010],[0.66,0.008],[0.68,0.011],[0.70,0.008],[0.72,0.010],[0.74,0.007],[0.76,0.010],[0.78,0.008],[0.80,0.011],[0.82,0.008],[0.84,0.010],[0.86,0.008],[0.88,0.011],[0.90,0.009],[0.92,0.012],[0.94,0.009],[0.96,0.011],[0.98,0.009],[1.00,0.012],[1.02,0.010],[1.04,0.013],[1.06,0.011],[1.08,0.014],[1.10,0.013],[1.12,0.016],[1.14,0.015],[1.16,0.018],[1.18,0.018],[1.20,0.021],[1.22,0.021],[1.24,0.024],[1.26,0.024],[1.28,0.027],[1.30,0.028],[1.32,0.030],[1.34,0.032],[1.36,0.035],[1.38,0.036],[1.40,0.040],[1.42,0.042],[1.44,0.046],[1.46,0.049],[1.48,0.054],[1.50,0.057],[1.52,0.062],[1.54,0.066],[1.56,0.071],[1.58,0.075],[1.60,0.081],[1.62,0.087],[1.64,0.094],[1.66,0.102],[1.67,0.106],[1.68,0.112],[1.69,0.107],[1.70,0.105],[1.71,0.108],[1.72,0.104],[1.73,0.108],[1.745,0.1],[1.75,0.098]];

// ---------------- STYLE / LAYOUT ----------------
const PURPLE = '#7a10f5', GREEN = '#3f7256', RED = '#d0001c';
const FF = '"Liberation Sans", Arial, Helvetica, sans-serif';
const AXC = '#222';
const COLX = [73, 579], W = 426;
const TICK_FS = 19;

function minorVals(lo, hi, step, majors) {
  const out = [];
  const k0 = Math.ceil(lo / step - 1e-9), k1 = Math.floor(hi / step + 1e-9);
  for (let k = k0; k <= k1; k++) {
    const v = +(k * step).toFixed(10);
    if (!majors.some(m => Math.abs(m - v) < step * 1e-3)) out.push(v);
  }
  return out;
}

const panels = [
  {c:0, top:37, h:141, xr:[1.0,1.0438], yr:[-0.19,3.56], xM:RHO_AUG_TICKS, xd:2, xs:0.002, showX:true, yM:Y_A_TICKS, yd:0, ys:0.5, lw:2.8,
   s:[[aug_L_34102,PURPLE],[aug_L_34104,GREEN]]},
  {c:0, top:227, h:157, xr:[0,5], yr:[-0.085,1.0945], xM:T_AUG_TICKS, xd:0, xs:0.2, showX:false, yM:Y_B_TICKS, yd:1, ys:0.1, lw:1.4,
   s:[[aug_ip_34102,PURPLE],[aug_ip_34104,GREEN]]},
  {c:0, top:384, h:157, xr:[0,5], yr:[0,6], xM:T_AUG_TICKS, xd:0, xs:0.2, showX:false, yM:Y_C_TICKS, yd:0, ys:0.5, lw:1.6,
   s:[[aug_ne_34102,PURPLE],[aug_ne_34104,GREEN]]},
  {c:0, top:541, h:157, xr:[0,5], yr:[-0.045,0.96], xM:T_AUG_TICKS, xd:0, xs:0.2, showX:false, yM:Y_D_TICKS, yd:1, ys:0.1, lw:1.4,
   s:[[aug_d2_34102,PURPLE],[aug_d2_34104,GREEN]]},
  {c:0, top:698, h:157, xr:[0,5], yr:[0,2.52], xM:T_AUG_TICKS, xd:0, xs:0.2, showX:false, yM:Y_E_TICKS, yd:0, ys:0.2, lw:1.3,
   s:[[aug_ps_34102,PURPLE],[aug_ps_34104,GREEN]]},
  {c:0, top:855, h:157, xr:[0,5], yr:[-0.067,1.674], xM:T_AUG_TICKS, xd:0, xs:0.2, showX:true, yM:Y_F_TICKS, yd:0, ys:0.2, lw:1.5,
   s:[[aug_fl_34102,PURPLE],[aug_fl_34104,GREEN]]},
  {c:1, top:38, h:139, xr:[0.9988,1.0988], yr:[4.72,14.37], xM:RHO_TCV_TICKS, xd:2, xs:0.005, showX:true, yM:Y_G_TICKS, yd:0, ys:1, lw:2.8,
   s:[[tcv_L_57461,RED],[tcv_L_57454,PURPLE],[tcv_L_57497,GREEN]]},
  {c:1, top:227, h:157, xr:[0,2], yr:[0,0.3507], xM:T_TCV_TICKS, xd:1, xs:0.1, showX:false, yM:Y_H_TICKS, yd:1, ys:0.05, lw:1.4,
   s:[[tcv_ip_57461,RED],[tcv_ip_57454,PURPLE],[tcv_ip_57497,GREEN]]},
  {c:1, top:384, h:157, xr:[0,2], yr:[0,12.1], xM:T_TCV_TICKS, xd:1, xs:0.1, showX:false, yM:Y_I_TICKS, yd:0, ys:1, lw:1.3,
   s:[[tcv_ne_57461,RED],[tcv_ne_57454,PURPLE],[tcv_ne_57497,GREEN]]},
  {c:1, top:541, h:157, xr:[0,2], yr:[-0.017,0.368], xM:T_TCV_TICKS, xd:1, xs:0.1, showX:false, yM:Y_J_TICKS, yd:1, ys:0.05, lw:1.4,
   s:[[tcv_d2_57461,RED],[tcv_d2_57454,PURPLE],[tcv_d2_57497,GREEN]]},
  {c:1, top:698, h:157, xr:[0,2], yr:[-0.062,0.846], xM:T_TCV_TICKS, xd:1, xs:0.1, showX:false, yM:Y_M_TICKS, yd:1, ys:0.1, lw:1.5,
   s:[[tcv_ps_57461,RED],[tcv_ps_57454,PURPLE],[tcv_ps_57497,GREEN]]},
  {c:1, top:855, h:157, xr:[0,2], yr:[-0.009,0.1198], xM:T_TCV_TICKS, xd:1, xs:0.1, showX:true, yM:Y_N_TICKS, yd:2, ys:0.01, lw:1.8,
   s:[[tcv_pa_57461,RED],[tcv_pa_57454,PURPLE],[tcv_pa_57497,GREEN]]}
];

const grid = [], xAxis = [], yAxis = [], series = [];
panels.forEach((p, i) => {
  grid.push({left: COLX[p.c], top: p.top, width: W, height: p.h, show: true, borderColor: AXC, borderWidth: 1, backgroundColor: 'transparent'});
  const common = {gridIndex: i, type: 'value', axisLine: {show: false, onZero: false}, splitLine: {show: false}};
  xAxis.push(Object.assign({}, common, {min: p.xr[0], max: p.xr[1], position: 'bottom',
    axisTick: {show: p.showX, customValues: p.xM, length: 4, lineStyle: {color: AXC, width: 1}},
    axisLabel: {show: p.showX, customValues: p.xM, fontSize: TICK_FS, fontFamily: FF, color: '#000', margin: 6, formatter: v => (+v).toFixed(p.xd)}}));
  xAxis.push(Object.assign({}, common, {min: p.xr[0], max: p.xr[1], position: 'bottom',
    axisTick: {show: p.showX, customValues: minorVals(p.xr[0], p.xr[1], p.xs, p.xM), length: 2, lineStyle: {color: AXC, width: 1}},
    axisLabel: {show: false}}));
  yAxis.push(Object.assign({}, common, {min: p.yr[0], max: p.yr[1], position: 'left',
    axisTick: {show: true, customValues: p.yM, length: 4, lineStyle: {color: AXC, width: 1}},
    axisLabel: {show: true, customValues: p.yM, fontSize: TICK_FS, fontFamily: FF, color: '#000', margin: 7, formatter: v => (+v).toFixed(p.yd)}}));
  yAxis.push(Object.assign({}, common, {min: p.yr[0], max: p.yr[1], position: 'left',
    axisTick: {show: true, customValues: minorVals(p.yr[0], p.yr[1], p.ys, p.yM), length: 2, lineStyle: {color: AXC, width: 1}},
    axisLabel: {show: false}}));
  p.s.forEach(([d, col]) => {
    series.push({type: 'line', xAxisIndex: 2 * i, yAxisIndex: 2 * i, data: d, showSymbol: false, symbol: 'none',
      clip: true, animation: false, silent: true,
      lineStyle: {color: col, width: p.lw, join: 'round'}});
  });
});

// ---------- texts ----------
function R(fs) {
  const s = Math.round(fs * 0.7);
  const dn = Math.round(fs * 0.5), up = Math.round(fs * 0.6);
  return {
    n: {fontSize: fs, fontFamily: FF, fill: '#000'},
    i: {fontSize: fs, fontFamily: FF, fontStyle: 'italic', fill: '#000'},
    sb: {fontSize: s, fontFamily: FF, fill: '#000', padding: [dn, 0, 0, 0]},
    sb0: {fontSize: s, fontFamily: FF, fill: '#000', padding: [dn, 0, 0, 0], width: 0},
    sbi: {fontSize: s, fontFamily: FF, fontStyle: 'italic', fill: '#000', padding: [dn, 0, 0, 0]},
    sp: {fontSize: s, fontFamily: FF, fill: '#000', padding: [0, 0, up, 0]}
  };
}
function txt(x, y, text, fs, o) {
  o = o || {};
  return {type: 'text', x: x, y: y, rotation: o.rot ? Math.PI / 2 : 0, z: 100,
    style: {text: text, rich: R(fs), fontSize: fs, fontFamily: FF, fill: o.color || '#000',
      align: o.align || 'center', verticalAlign: 'middle'}};
}
const NE = '{n|n}{sb0|e}{sp|e}{n|[10}{sp|19}{n|m}{sp|−3}{n|]}';
const NF = 21, LF = 20;
const graphic = [
  txt(287, 20, '{n|AUG}', 24),
  txt(793, 22, '{n|TCV}', 24),
  // y names left
  txt(41, 108, '{n|L}{sb|∥}{n| [m]}', NF, {rot: 1}),
  txt(24, 309, '{n|I}{sbi|p}{n| [MA]}', NF, {rot: 1}),
  txt(41, 462, NE, NF, {rot: 1}),
  txt(25, 620, '{n|D}{sb|2}{n| [10}{sp|22}{n|el/s]}', NF, {rot: 1}),
  txt(40, 777, '{n|P}{sbi|sep}{n| [MW]}', NF, {rot: 1}),
  // y names right
  txt(535, 108, '{n|L}{sb|∥}{n| [m]}', NF, {rot: 1}),
  txt(530, 307, '{n|I}{sbi|p}{n| [MA]}', NF, {rot: 1}),
  txt(545, 462, NE, NF, {rot: 1}),
  txt(534, 620, '{n|D}{sb|2}{n|[10}{sp|22}{n|el/s]}', NF, {rot: 1}),
  txt(530, 777, '{n|P}{sb|sep}{n| [MW]}', NF, {rot: 1}),
  txt(522, 933, '{n|[Pa]}', NF, {rot: 1}),
  // x names
  txt(283, 208, '{i|ρ}{sbi|p}', NF),
  txt(793, 208, '{i|ρ}{sbi|p}', NF),
  txt(287, 1047, '{n|t [s]}', NF),
  txt(793, 1047, '{n|t [s]}', NF),
  // flux unit
  txt(96, 873, '{n|[10}{sp|21}{n|molecules/m}{sp|2}{n|/s]}', 20, {align: 'left'}),
  // panel letters
  txt(466, 53, '{n|(a)}', LF), txt(467, 245, '{n|(b)}', LF), txt(467, 400, '{n|(c)}', LF),
  txt(467, 557, '{n|(d)}', LF), txt(467, 713, '{n|(e)}', LF), txt(465, 873, '{n|(f)}', LF),
  txt(975, 53, '{n|(g)}', LF), txt(975, 245, '{n|(h)}', LF), txt(972, 400, '{n|(i)}', LF),
  txt(971, 557, '{n|(l)}', LF), txt(977, 713, '{n|(m)}', LF), txt(975, 872, '{n|(n)}', LF),
  // legends
  {type: 'text', x: 159, y: 400, z: 100, style: {text: AUG_SHOTS[0], fill: PURPLE, fontSize: 15.5, fontFamily: FF, align: 'left', verticalAlign: 'middle'}},
  {type: 'text', x: 159, y: 415, z: 100, style: {text: AUG_SHOTS[1], fill: GREEN, fontSize: 15.5, fontFamily: FF, align: 'left', verticalAlign: 'middle'}},
  {type: 'text', x: 623, y: 400, z: 100, style: {text: TCV_SHOTS[0], fill: RED, fontSize: 16, fontFamily: FF, align: 'left', verticalAlign: 'middle'}},
  {type: 'text', x: 623, y: 415, z: 100, style: {text: TCV_SHOTS[1], fill: PURPLE, fontSize: 16, fontFamily: FF, align: 'left', verticalAlign: 'middle'}},
  {type: 'text', x: 623, y: 431, z: 100, style: {text: TCV_SHOTS[2], fill: GREEN, fontSize: 16, fontFamily: FF, align: 'left', verticalAlign: 'middle'}}
];

const chart = echarts.init(document.getElementById('c'), null, {renderer: 'canvas'});
chart.setOption({animation: false, backgroundColor: '#fff', grid, xAxis, yAxis, series, graphic});
</script></body></html>
